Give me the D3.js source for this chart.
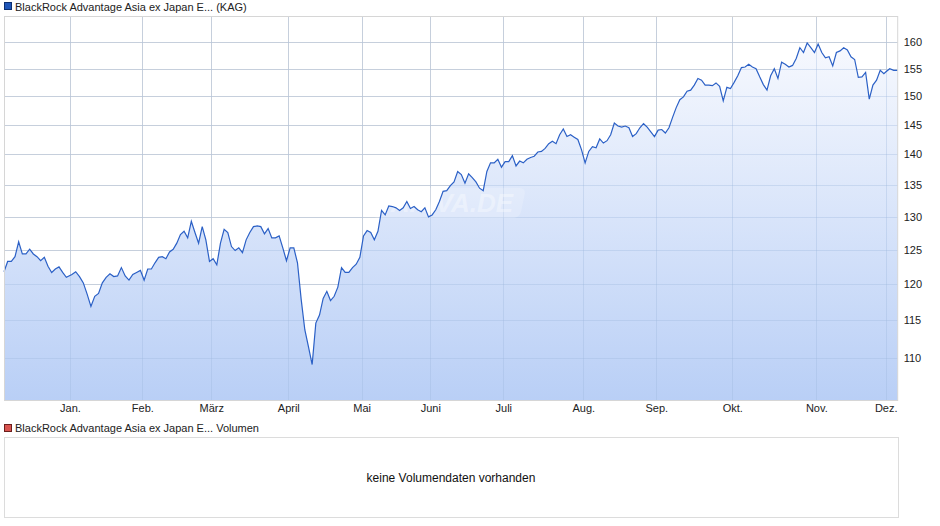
<!DOCTYPE html>
<html><head><meta charset="utf-8">
<script src="https://cdn.jsdelivr.net/npm/d3@7/dist/d3.min.js"></script>
<style>body{margin:0;background:#fff;font-family:"Liberation Sans",Arial,sans-serif}</style>
</head><body><svg id="c" width="940" height="526"></svg>
<script>
const title = "BlackRock Advantage Asia ex Japan E... (KAG)";
const volTitle = "BlackRock Advantage Asia ex Japan E... Volumen";
const noVol = "keine Volumendaten vorhanden";
const monthLabels = ["Jan.","Feb.","März","April","Mai","Juni","Juli","Aug.","Sep.","Okt.","Nov.","Dez."];
const yTicks = [110,115,120,125,130,135,140,145,150,155,160];
// values grouped by calendar month (Dec 2024 … Dec 2025)
const dec24 = [121.8,123.3,123.3,124.0,126.2,124.4,124.4,125.1,124.4,124.0,123.4,123.9,122.6,121.7,122.2,122.5,121.7,121.0];
const jan = [121.4,121.8,121.1,120.2,118.6,116.9,118.3,118.7,120.2,121.0,121.5,121.1,121.2,122.4,121.2,120.6,121.4,121.7,122.0];
const feb = [120.6,122.2,122.2,123.1,123.9,124.0,123.7,124.7,125.1,126.0,127.3,127.8,126.8,129.3,127.6,126.0,128.5,126.5,123.3];
const mar = [123.7,122.8,126.0,128.1,127.6,125.5,124.9,125.3,124.6,126.5,127.6,128.5,128.6,128.5,127.4,128.2,126.8,126.8,127.1,125.3,123.4];
const apr = [125.3,125.3,123.1,117.9,113.7,111.4,109.1,114.6,115.7,118.0,119.0,117.7,118.3,119.6,122.4,121.7,121.7,122.4,122.9,123.9];
const may = [127.1,127.9,127.6,126.5,127.8,131.0,130.3,131.7,131.6,131.4,131.0,131.4,132.4,131.3,131.6,131.1,130.8,131.4,130.0];
const jun = [130.3,131.1,132.4,134.0,134.1,134.9,135.5,137.2,136.7,135.3,136.8,136.2,135.5,134.5,134.1,137.2,138.6,138.6,139.2,137.9];
const jul = [138.8,138.8,139.8,138.1,138.9,138.6,139.2,139.5,139.7,140.4,140.5,141.0,141.8,142.2,141.8,143.3,144.3,143.0,143.3,142.9,142.5,140.8];
const aug = [138.6,140.5,141.3,141.1,142.6,141.9,142.3,143.3,145.3,144.8,144.6,144.8,144.5,143.0,143.5,144.5,145.2,144.6,143.8,143.0];
const sep = [144.1,144.2,143.6,144.5,146.3,148.0,149.4,149.9,150.9,151.1,152.0,153.2,152.9,152.0,152.0,151.9,152.4,151.8,149.2,151.6,151.4];
const oct = [152.5,153.7,155.2,155.3,155.8,155.3,155.0,153.5,152.1,151.1,153.7,155.0,153.2,156.2,155.8,155.3,155.6,156.9,158.9,158.0,159.8,158.9,158.0];
const nov = [159.6,158.0,157.0,157.2,155.5,158.0,158.3,158.9,158.5,157.2,156.7,153.4,153.5,154.3,149.5,152.0,152.9,154.7,154.1];
const dec25 = [154.4,155.0,154.7,154.7];

const months = [dec24,jan,feb,mar,apr,may,jun,jul,aug,sep,oct,nov,dec25];
const bounds = [new Date(2024,11,4)];
for (let m=0;m<12;m++) bounds.push(new Date(2025,m,1));
bounds.push(new Date(2025,11,6));
// layout: pixel anchors of month starts (chart uses trading-day spacing)
const xAnchors = [4,70,142.3,211.3,288.3,361.7,430.3,503.3,583.3,656.3,732.3,816.3,885.7,897.7];

const data = [];
months.forEach((arr,m)=>{
  const s=+bounds[m], e=+bounds[m+1], n=arr.length;
  arr.forEach((v,i)=>{
    let f = m===0 ? i/n : (m===months.length-1 ? i/(n-1) : (i+0.5)/n);
    data.push({d:new Date(s+f*(e-s)), v});
  });
});

const svg = d3.select("#c");
const L=4,R=897.7,T=16,B=400;
const x = d3.scaleTime().domain(bounds).range(xAnchors);
const y = d3.scaleLog().domain([104.6,165]).range([B,T]);

const defs = svg.append("defs");
const g = defs.append("linearGradient").attr("id","gr").attr("x1",0).attr("y1",0).attr("x2",0).attr("y2",1)
  .attr("gradientUnits","userSpaceOnUse").attr("x1",0).attr("x2",0).attr("y1",40).attr("y2",B);
g.append("stop").attr("offset",0).attr("stop-color","#f7f9fe");
g.append("stop").attr("offset",1).attr("stop-color","#b9cff6");

// legend
svg.append("rect").attr("x",4.5).attr("y",2.5).attr("width",7).attr("height",7).attr("fill","#1f56b8").attr("stroke","#0d2f70");
svg.append("text").attr("x",15).attr("y",10.5).attr("font-size",11).attr("fill","#222").text(title);

// grid
svg.append("g").selectAll("line").data(yTicks).join("line")
  .attr("x1",L).attr("x2",R).attr("y1",d=>Math.round(y(d))+0.5).attr("y2",d=>Math.round(y(d))+0.5)
  .attr("stroke","#dcdcdc");
svg.append("g").selectAll("line").data(bounds.slice(1,13)).join("line")
  .attr("x1",d=>Math.round(x(d))+0.5).attr("x2",d=>Math.round(x(d))+0.5).attr("y1",T).attr("y2",B)
  .attr("stroke","#dcdcdc");

// area + line
svg.append("path").datum(data).attr("fill","url(#gr)")
  .attr("d",d3.area().x(d=>x(d.d)).y0(B).y1(d=>y(d.v)));
// regrid over area faintly
svg.append("g").selectAll("line").data(yTicks).join("line")
  .attr("x1",L).attr("x2",R).attr("y1",d=>Math.round(y(d))+0.5).attr("y2",d=>Math.round(y(d))+0.5)
  .attr("stroke","#9fb6dc").attr("stroke-opacity",0.35);
svg.append("g").selectAll("line").data(bounds.slice(1,13)).join("line")
  .attr("x1",d=>Math.round(x(d))+0.5).attr("x2",d=>Math.round(x(d))+0.5).attr("y1",T).attr("y2",B)
  .attr("stroke","#9fb6dc").attr("stroke-opacity",0.35);
// watermark
svg.append("rect").attr("x",378).attr("y",188).attr("width",148).attr("height",30).attr("rx",6)
  .attr("fill","#ffffff").attr("opacity",0.18).attr("transform","skewX(-12) translate(40,0)");
svg.append("text").attr("x",452).attr("y",212).attr("text-anchor","middle").attr("font-size",26)
  .attr("font-weight","bold").attr("font-style","italic").attr("fill","#ffffff").attr("opacity",0.35).text("ARIVA.DE");

svg.append("path").datum(data).attr("fill","none").attr("stroke","#2b60c6").attr("stroke-width",1.2)
  .attr("d",d3.line().x(d=>x(d.d)).y(d=>y(d.v)));

// frame
svg.append("rect").attr("x",L+0.5).attr("y",T+0.5).attr("width",R-L-0.5).attr("height",B-T).attr("fill","none").attr("stroke","#d6d6d6");

// axes
const yAx = svg.append("g").attr("transform",`translate(${R},0)`)
  .call(d3.axisRight(y).tickValues(yTicks).tickFormat(d3.format("d")).tickSize(0).tickPadding(6));
yAx.select(".domain").remove();
yAx.selectAll("text").attr("font-size",11).attr("fill","#222").attr("font-family","Liberation Sans, Arial");
const xAx = svg.append("g").attr("transform",`translate(0,${B})`)
  .call(d3.axisBottom(x).tickValues(bounds.slice(1,13)).tickFormat((d,i)=>monthLabels[i]).tickSize(0).tickPadding(4));
xAx.select(".domain").remove();
xAx.selectAll("text").attr("font-size",11).attr("fill","#222").attr("font-family","Liberation Sans, Arial");

// volume panel
svg.append("rect").attr("x",4.5).attr("y",424.5).attr("width",7).attr("height",7).attr("fill","#d9534f").attr("stroke","#6b1f1c");
svg.append("text").attr("x",15).attr("y",432).attr("font-size",11).attr("fill","#222").text(volTitle);
svg.append("rect").attr("x",4.5).attr("y",437.5).attr("width",894).attr("height",80).attr("fill","none").attr("stroke","#dcdcdc");
svg.append("text").attr("x",451).attr("y",482).attr("text-anchor","middle").attr("font-size",12).attr("fill","#111").text(noVol);
</script></body></html>
